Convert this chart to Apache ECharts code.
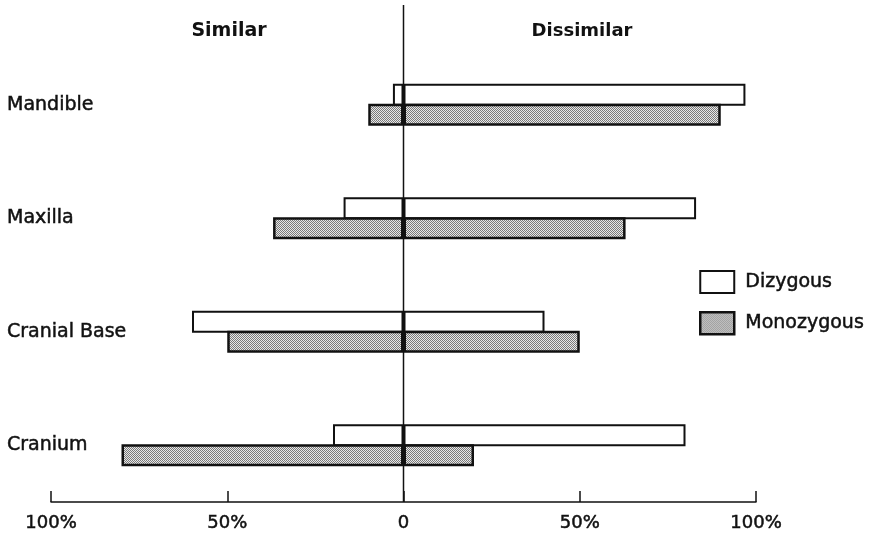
<!DOCTYPE html>
<html>
<head>
<meta charset="utf-8">
<script src="https://cdn.jsdelivr.net/npm/echarts@6/dist/echarts.min.js"></script>
<style>html,body{margin:0;padding:0;background:#fff;}#c{width:880px;height:538px;}</style>
</head>
<body>
<div id="c"></div>
<script>
const categories = ['Mandible', 'Maxilla', 'Cranial Base', 'Cranium'];
const dizygousSimilar = [-3, -17, -60, -20];
const dizygousDissimilar = [97, 83, 40, 80];
const monozygousSimilar = [-10, -37, -50, -80];
const monozygousDissimilar = [90, 63, 50, 20];
const xTicks = [-100, -50, 0, 50, 100];
const headers = ['Similar', 'Dissimilar'];

const FONT = '"DejaVu Sans", sans-serif';
const INK = '#111111';
const heavy = { textBorderColor: INK, textBorderWidth: 0.5 };

// stipple pattern for monozygous
const pc = document.createElement('canvas');
pc.width = 2; pc.height = 2;
const pctx = pc.getContext('2d');
pctx.fillStyle = '#e8e8e8'; pctx.fillRect(0, 0, 2, 2);
pctx.fillStyle = '#7a7a7a'; pctx.fillRect(0, 0, 1, 1); pctx.fillRect(1, 1, 1, 1);
const stipple = { image: pc, repeat: 'repeat' };

const dzStyle = { color: '#ffffff', borderColor: INK, borderWidth: 2 };
const mzStyle = { color: stipple, borderColor: INK, borderWidth: 2.5 };

const chart = echarts.init(document.getElementById('c'), null, { renderer: 'canvas' });
const option = {
  animation: false,
  backgroundColor: '#ffffff',
  grid: { left: 51, right: 124, top: 48, bottom: 36 },
  title: [
    { text: headers[0], left: 224, top: 17, textAlign: 'center',
      textStyle: Object.assign({ fontFamily: FONT, fontSize: 19, fontWeight: 'bold', color: INK }, {}) },
    { text: headers[1], left: 577, top: 17, textAlign: 'center',
      textStyle: { fontFamily: FONT, fontSize: 18, fontWeight: 'bold', color: INK } }
  ],
  legend: {
    orient: 'vertical', left: 694, top: 265,
    itemWidth: 34, itemHeight: 22, itemGap: 17,
    icon: 'rect',
    selectedMode: false,
    data: [
      { name: 'Dizygous', itemStyle: dzStyle },
      { name: 'Monozygous', itemStyle: mzStyle }
    ],
    textStyle: Object.assign({ fontFamily: FONT, fontSize: 19, color: INK, padding: [0, 0, 0, 6] }, heavy)
  },
  xAxis: {
    type: 'value', min: -100, max: 100, interval: 50,
    splitLine: { show: false },
    axisLine: { show: true, onZero: false, lineStyle: { color: INK, width: 1.5 } },
    axisTick: { show: true, inside: true, length: 11, lineStyle: { color: INK, width: 1.5 } },
    axisLabel: Object.assign({
      margin: 12, fontFamily: FONT, fontSize: 18, color: INK,
      formatter: v => (v === 0 ? '0' : Math.abs(v) + '%')
    }, heavy)
  },
  yAxis: {
    type: 'category', data: categories, inverse: true,
    axisLine: { show: false }, axisTick: { show: false },
    axisLabel: Object.assign({ align: 'left', margin: 44, fontFamily: FONT, fontSize: 19, color: INK }, heavy)
  },
  series: [
    { name: 'Dizygous', type: 'bar', stack: 'dz', data: dizygousSimilar, barWidth: 22, barGap: '-9%', itemStyle: dzStyle },
    { name: 'Dizygous', type: 'bar', stack: 'dz', data: dizygousDissimilar, barWidth: 22, barGap: '-9%', itemStyle: dzStyle },
    { name: 'Monozygous', type: 'bar', stack: 'mz', data: monozygousSimilar, barWidth: 22, barGap: '-9%', itemStyle: mzStyle },
    { name: 'Monozygous', type: 'bar', stack: 'mz', data: monozygousDissimilar, barWidth: 22, barGap: '-9%', itemStyle: mzStyle }
  ]
};
chart.setOption(option);

// zero reference line, extended above the plot like the original
const x0 = chart.convertToPixel({ xAxisIndex: 0 }, 0);
const yA = chart.convertToPixel({ yAxisIndex: 0 }, categories[0]);
const yB = chart.convertToPixel({ yAxisIndex: 0 }, categories[1]);
const yBottom = chart.convertToPixel({ yAxisIndex: 0 }, categories[categories.length - 1]) + (yB - yA) / 2;
chart.setOption({
  graphic: [{
    type: 'line', z: 100,
    shape: { x1: x0, y1: 5, x2: x0, y2: yBottom },
    style: { stroke: INK, lineWidth: 1.5 }
  }]
});
</script>
</body>
</html>
